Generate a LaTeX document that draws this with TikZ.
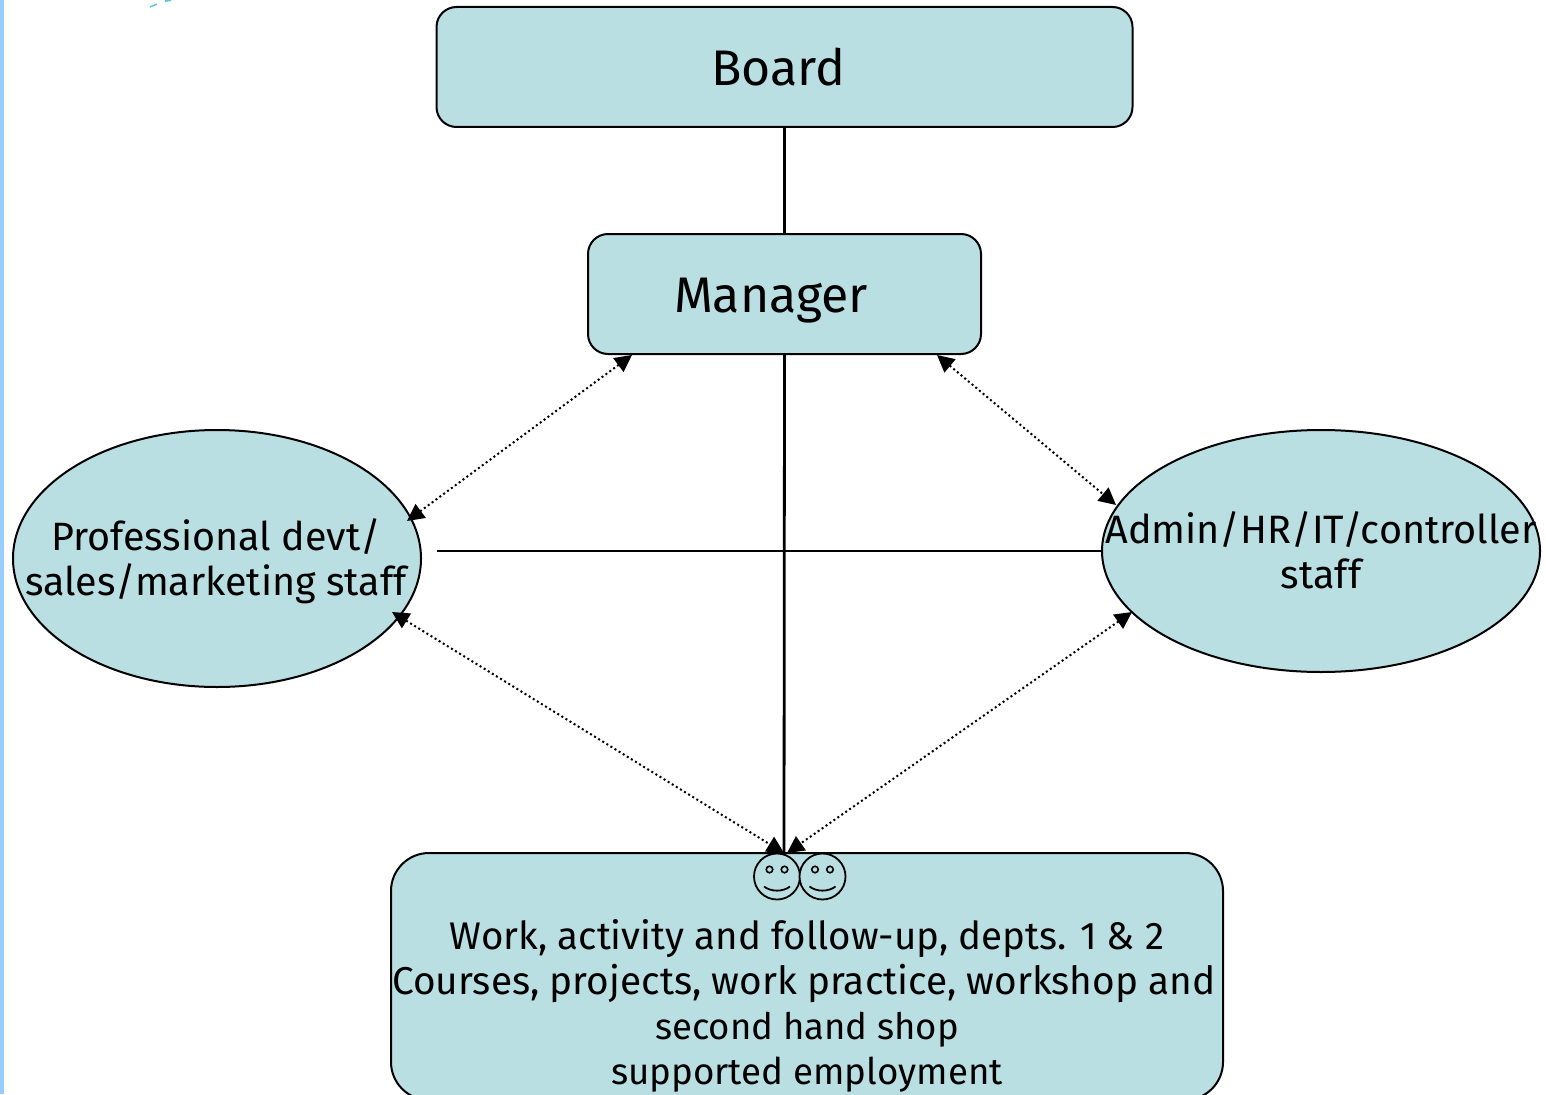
\documentclass[tikz,border=0pt]{standalone}
\usepackage{fontspec}
\setmainfont{Fira Sans}
\usetikzlibrary{arrows.meta,shapes.geometric}
\definecolor{boxfill}{HTML}{B9DFE3}
\definecolor{bandblue}{HTML}{99CCFF}
\definecolor{tealmark}{HTML}{5CC4D6}
\tikzset{
 x=1pt,y=-1pt,
 roundbox/.style={draw=black,line width=2pt,fill=boxfill,rounded corners=#1,inner sep=0pt,outer sep=0pt},
 oval/.style={draw=black,line width=2pt,fill=boxfill,ellipse,inner sep=0pt,outer sep=0pt},
 solidline/.style={draw=black,line width=2.8pt},
 dotline/.style={draw=black,line width=2pt,dash pattern=on 2pt off 2.8pt,{Triangle[length=17pt,width=17pt]}-{Triangle[length=17pt,width=17pt]}},
 lab/.style={align=center,inner sep=0pt,text=black},
 smile/.style={circle,draw=black,line width=1.8pt,fill=boxfill,minimum size=46pt,inner sep=0pt},
 eye/.style={circle,draw=black,line width=1.6pt,minimum size=6.5pt,inner sep=0pt},
 mouth/.style={draw=black,line width=1.8pt}
}
\begin{document}
\begin{tikzpicture}
\useasboundingbox (0,0) rectangle (1546,1094);
\clip (0,0) rectangle (1546,1094);
\fill[white] (0,0) rectangle (1546,1094);
\fill[bandblue] (0,0) rectangle (4,1094);
\draw[tealmark,line width=1.5pt] (150,7) -- (157,4);
\draw[tealmark,line width=2pt] (165,1) -- (171,0);
% shapes
\node[roundbox=20pt,minimum width=696pt,minimum height=120pt] (board) at (784.5,67) {};
\node[roundbox=20pt,minimum width=393pt,minimum height=120pt] (manager) at (784.5,294) {};
\node[oval,minimum width=408pt,minimum height=257pt] (left) at (217,558.5) {};
\node[oval,minimum width=438pt,minimum height=242pt] (right) at (1321,551) {};
\node[roundbox=38pt,minimum width=832pt,minimum height=247pt] (work) at (807,976.5) {};
% free ends
\coordinate (hl) at (437,551);
\coordinate (vb) at (784,853);
\coordinate (mL) at (632,355);
\coordinate (mR) at (937,355);
\coordinate (lT) at (407,521);
\coordinate (lB) at (392,612);
\coordinate (rT) at (1116,505);
\coordinate (rB) at (1132,612);
\coordinate (wL) at (784,853);
\coordinate (wR) at (787,853);
% connectors
\draw[solidline] (board.south) -- (manager.north);
\draw[solidline] (manager.south) -- (vb);
\draw[solidline] (hl) -- (right.west);
\draw[dotline] (mL) -- (lT);
\draw[dotline] (mR) -- (rT);
\draw[dotline] (lB) -- (wL);
\draw[dotline] (rB) -- (wR);
% smileys
\node[smile] (s1) at (777,876.5) {};
\node[smile] (s2) at (822.5,876.5) {};
\foreach \c/\n in {777/a,822.5/b}{
  \node[eye] (e\n1) at (\c-7.5,869.5) {};
  \node[eye] (e\n2) at (\c+7.5,869.5) {};
  \draw[mouth] (\c-13,886.5) .. controls (\c-6,892) and (\c+6,892) .. (\c+13,886.5);
}
% text
\node[lab,font=\fontsize{50}{56}\selectfont] (tboard) at (778,67) {Board};
\node[lab,font=\fontsize{50}{56}\selectfont] (tmanager) at (771,301) {Manager};
\node[lab,font=\fontsize{39.5}{45}\selectfont] (tleft) at (216,561) {Professional devt/\\sales/marketing staff};
\node[lab,font=\fontsize{39.6}{45}\selectfont] (tright) at (1321,550) {Admin/HR/IT/controller\\staff};
\node[lab,font=\fontsize{38.5}{45}\selectfont] (twork) at (804,1006) {\hspace*{6pt}Work, activity and follow-up, depts. 1 \& 2\\\fontsize{38.8}{45}\selectfont Courses, projects, work practice, workshop and\\\hspace*{6pt}\fontsize{36.5}{45}\selectfont second hand shop\\\hspace*{6pt}\fontsize{36.7}{45}\selectfont supported employment};
\end{tikzpicture}
\end{document}
